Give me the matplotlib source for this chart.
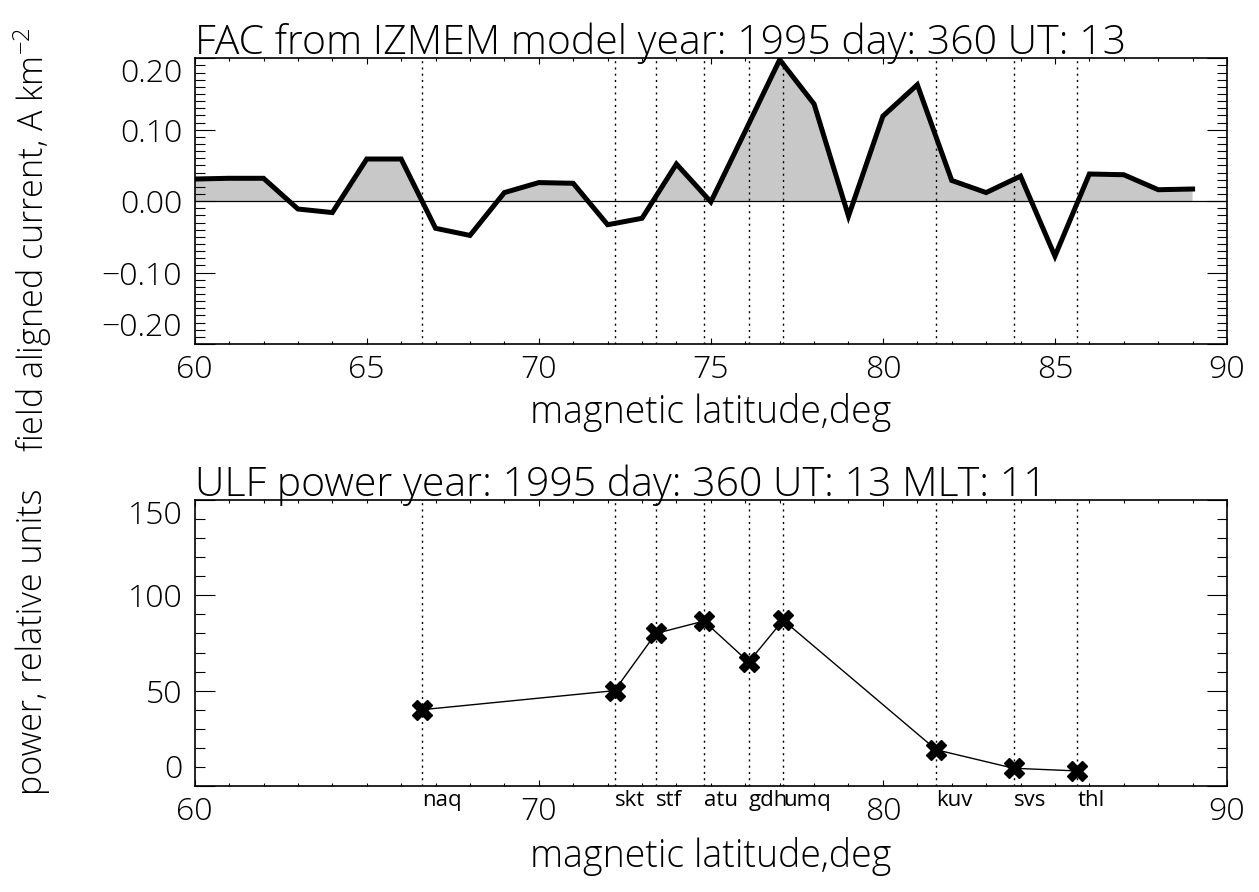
import numpy as np
import matplotlib
matplotlib.use('Agg')
import matplotlib.pyplot as plt
from matplotlib.ticker import AutoMinorLocator

# FAC profile from IZMEM model, one value per degree of latitude
fac_lat = [60, 61, 62, 63, 64, 65, 66, 67, 68, 69, 70, 71, 72, 73, 74,
           75, 76, 77, 78, 79, 80, 81, 82, 83, 84, 85, 86, 87, 88, 89]
fac = [0.031, 0.032, 0.032, -0.011, -0.016, 0.059, 0.059, -0.038, -0.048, 0.012,
       0.026, 0.025, -0.033, -0.024, 0.052, -0.001, 0.098, 0.198, 0.136, -0.021,
       0.119, 0.163, 0.029, 0.012, 0.035, -0.077, 0.038, 0.037, 0.016, 0.017]

# stations and ULF power
stations = ['naq', 'skt', 'stf', 'atu', 'gdh', 'umq', 'kuv', 'svs', 'thl']
station_lat = [66.6, 72.2, 73.4, 74.8, 76.1, 77.1, 81.55, 83.8, 85.65]
ulf_power = [40, 50, 80, 86.5, 65, 87, 19, 9.3, 7.9]

fac_yticks = [-0.2, -0.1, 0.0, 0.1, 0.2]
fac_ylabels = ['\u22120.20', '\u22120.10', '0.00', '0.10', '0.20']
pow_yticks = [0, 50, 100, 150]

W, H = 1259, 892
plt.rcParams['font.family'] = ['Open Sans', 'DejaVu Sans']
plt.rcParams['font.weight'] = 'light'
plt.rcParams['mathtext.fontset'] = 'custom'
plt.rcParams['mathtext.rm'] = 'Open Sans:light'
fig = plt.figure(figsize=(W / 100, H / 100), dpi=100)

def px_axes(left, top, right, bottom):
    return fig.add_axes([left / W, 1 - bottom / H, (right - left) / W, (bottom - top) / H])

ax1 = px_axes(194.7, 58.3, 1227, 344)
ax2 = px_axes(194.7, 500, 1227, 786)

def style(ax, xmaj, xminor_n, yminor_n):
    ax.set_xlim(60, 90)
    ax.set_xticks(np.arange(60, 91, xmaj))
    ax.xaxis.set_minor_locator(AutoMinorLocator(xminor_n))
    ax.yaxis.set_minor_locator(AutoMinorLocator(yminor_n))
    ax.tick_params(direction='in', top=True, right=True, which='both', width=0.8, labelsize=23)
    ax.tick_params(axis='x', which='major', length=4.5, pad=7)
    ax.tick_params(axis='x', which='minor', length=2.5)
    ax.tick_params(axis='y', which='major', length=14.5, pad=9)
    ax.tick_params(axis='y', which='minor', length=7.2)
    for s in ax.spines.values():
        s.set_linewidth(1.2)

# --- top panel: FAC ---
fl = np.array(fac_lat)
fv = np.array(fac)
ax1.fill_between(fl, fv, 0, where=fv > 0, interpolate=True, color='#c8c8c8', lw=0)
ax1.axhline(0, color='black', lw=0.9)
for lat in station_lat:
    ax1.axvline(lat, color='black', lw=1, ls=(0, (1.5, 3)))
ax1.plot(fl, fv, color='black', lw=3.6, solid_joinstyle='miter')
ax1.set_ylim(-0.2, 0.2)
style(ax1, 5, 5, 10)
ax1.set_yticks(fac_yticks)
ax1.set_yticklabels(fac_ylabels)

# --- bottom panel: ULF power ---
for lat in station_lat:
    ax2.axvline(lat, color='black', lw=1, ls=(0, (1.5, 3)))
ax2.plot(station_lat, ulf_power, color='black', lw=1, marker='X', ms=14, mfc='black', mec='black')
ax2.set_ylim(0, 150)
style(ax2, 10, 10, 5)
ax2.set_yticks(pow_yticks)
ax2.set_yticklabels([str(v) for v in pow_yticks])
for name, lat in zip(stations, station_lat):
    ax2.text(lat, -0.05, name, transform=ax2.get_xaxis_transform(), ha='left', va='center',
             fontsize=16, fontweight='normal')

# IDL-like end labels pulled inside the axis range
for ax in (ax1, ax2):
    labs = ax.get_yticklabels()
    labs[0].set_verticalalignment('bottom')
    labs[-1].set_verticalalignment('top')

# titles and axis titles
fig.text(195 / W, 1 - 54 / H, 'FAC from IZMEM model year: 1995 day: 360 UT: 13', fontsize=29.5, va='baseline', ha='left')
fig.text(195 / W, 1 - 496 / H, 'ULF power year: 1995 day: 360 UT: 13 MLT: 11', fontsize=29.5, va='baseline', ha='left')
fig.text(711 / W, 1 - 412 / H, 'magnetic latitude,deg', fontsize=27, ha='center', va='center')
fig.text(711 / W, 1 - 857 / H, 'magnetic latitude,deg', fontsize=27, ha='center', va='center')
fig.text(33 / W, 1 - 240 / H, 'field aligned current, A km$^{-2}$', fontsize=24.5, rotation=90, ha='center', va='center')
fig.text(33 / W, 1 - 642 / H, 'power, relative units', fontsize=24.5, rotation=90, ha='center', va='center')

fig.savefig('out.png', dpi=100)
